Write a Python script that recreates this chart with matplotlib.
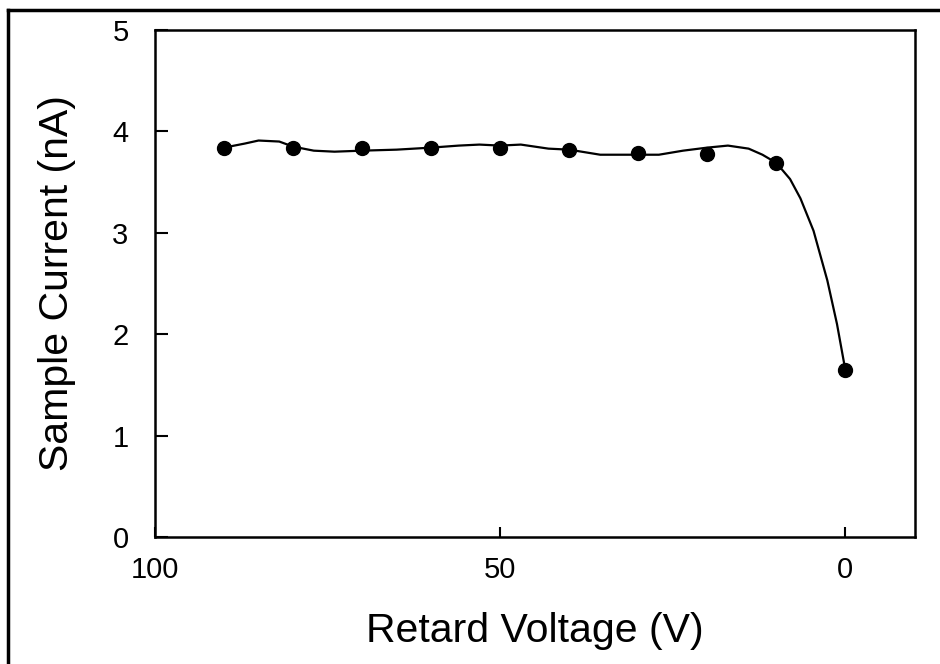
import matplotlib
matplotlib.use("Agg")
import matplotlib.pyplot as plt
from matplotlib.lines import Line2D

plt.rcParams['font.family'] = ['Liberation Sans', 'DejaVu Sans']

# measured points
voltage = [90, 80, 70, 60, 50, 40, 30, 20, 10, 0]
current = [3.84, 3.84, 3.84, 3.84, 3.84, 3.82, 3.79, 3.78, 3.69, 1.65]

# smooth guide line
curve_v = [90, 87, 85, 82, 80, 77, 74, 70, 65, 60, 56, 53, 50, 47, 43, 40,
           35.5, 30, 27, 23.5, 20, 17, 14, 12, 10, 8, 6.5, 4.6, 2.6, 1.2, 0]
curve_i = [3.84, 3.88, 3.91, 3.90, 3.85, 3.81, 3.80, 3.81, 3.82, 3.84, 3.86,
           3.87, 3.86, 3.87, 3.83, 3.82, 3.77, 3.77, 3.77, 3.81, 3.84, 3.86,
           3.83, 3.77, 3.69, 3.53, 3.34, 3.02, 2.53, 2.10, 1.65]

x_ticks = [100, 50, 0]
y_ticks = [0, 1, 2, 3, 4, 5]

fig = plt.figure(figsize=(9.4, 6.64), dpi=100)
ax = fig.add_axes([155 / 940, 1 - 537 / 664, 760 / 940, 507 / 664])

ax.plot(curve_v, curve_i, color='black', lw=1.6, solid_joinstyle='round')
ax.plot(voltage, current, 'o', color='black', ms=10)

ax.set_xlim(100, -10.1)
ax.set_ylim(0, 5)
ax.set_xticks(x_ticks)
ax.set_yticks(y_ticks)
ax.tick_params(axis='x', direction='in', length=7, width=1.5, labelsize=21, pad=14)
ax.tick_params(axis='y', direction='in', length=9, width=1.5, labelsize=21, pad=19)
for s in ax.spines.values():
    s.set_linewidth(1.8)

ax.set_xlabel('Retard Voltage (V)', fontsize=29.5, labelpad=20)
ax.set_ylabel('Sample Current (nA)', fontsize=29.5, labelpad=26)

# outer frame (only top and left edges visible)
fig.add_artist(Line2D([8 / 940, 1], [1 - 10 / 664, 1 - 10 / 664],
                      transform=fig.transFigure, color='black', lw=2.5))
fig.add_artist(Line2D([8 / 940, 8 / 940], [0, 1 - 10 / 664],
                      transform=fig.transFigure, color='black', lw=2.5))

fig.savefig('out.png', dpi=100)
